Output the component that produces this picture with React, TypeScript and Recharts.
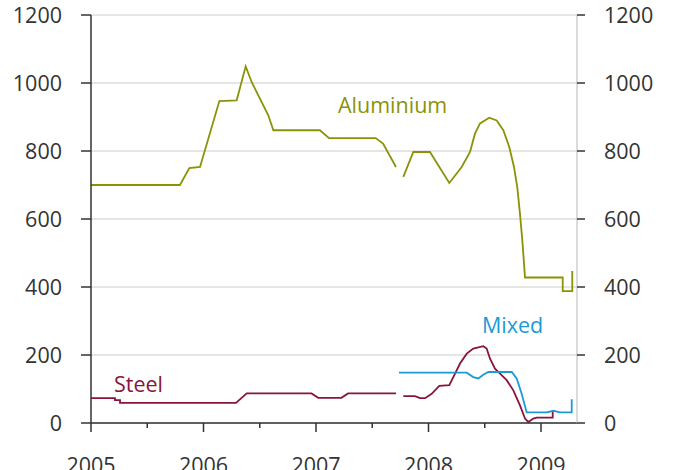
import { CartesianGrid, Line, LineChart, XAxis, YAxis } from "recharts";

type Pt = [number, number | null];

// prices, time in decimal years
const aluminium: Pt[] = [
  [2005.0, 700], [2005.791, 700], [2005.874, 750], [2005.969, 753],
  [2006.141, 947], [2006.295, 949], [2006.375, 1049], [2006.428, 1003],
  [2006.576, 905], [2006.621, 861], [2007.035, 861], [2007.116, 838],
  [2007.531, 838], [2007.596, 822], [2007.711, 753],
  [2007.745, null],
  [2007.776, 724], [2007.865, 797], [2008.013, 797], [2008.185, 706],
  [2008.295, 753], [2008.369, 797], [2008.413, 851], [2008.458, 881],
  [2008.54, 898], [2008.606, 890], [2008.665, 861], [2008.718, 812],
  [2008.76, 753], [2008.789, 694], [2008.813, 616], [2008.834, 537],
  [2008.858, 428], [2009.193, 428], [2009.193, 388], [2009.278, 388],
  [2009.278, 447],
];

const steel: Pt[] = [
  [2005.0, 73], [2005.213, 73], [2005.213, 67], [2005.258, 67],
  [2005.258, 59], [2006.289, 59], [2006.384, 87], [2006.96, 87],
  [2007.02, 74], [2007.226, 74], [2007.285, 87], [2007.711, 87],
  [2007.745, null],
  [2007.776, 79], [2007.88, 79], [2007.924, 73], [2007.97, 73],
  [2008.028, 86], [2008.096, 109], [2008.185, 111], [2008.236, 145],
  [2008.28, 175], [2008.34, 204], [2008.398, 219], [2008.487, 226],
  [2008.517, 219], [2008.547, 189], [2008.591, 160], [2008.636, 145],
  [2008.695, 126], [2008.754, 96], [2008.813, 52], [2008.858, 13],
  [2008.887, 3], [2008.932, 13], [2008.961, 16], [2009.104, 16],
  [2009.104, 32],
];

const mixed: Pt[] = [
  [2007.738, 148], [2008.34, 148], [2008.398, 135], [2008.443, 131],
  [2008.487, 142], [2008.532, 150], [2008.74, 150], [2008.784, 131],
  [2008.828, 86], [2008.873, 31], [2009.051, 31], [2009.11, 36],
  [2009.169, 31], [2009.273, 31], [2009.273, 70],
];

const yTicks = [0, 200, 400, 600, 800, 1000, 1200];
const xTicks = [2005, 2005.5, 2006, 2006.5, 2007, 2007.5, 2008, 2008.5, 2009];

const OLIVE = "#8a9306";
const CRIMSON = "#8a1538";
const BLUE = "#1b9ad6";
const TEXT = "#333333";
const FONT = "'Open Sans', 'Noto Sans', sans-serif";
const FS = 21.5;

const rows = (pts: Pt[]) => pts.map(([t, v]) => ({ t, v }));

function XTick(props: any) {
  const { x, y, payload } = props;
  const major = Number.isInteger(payload.value);
  return (
    <g>
      <line x1={x} y1={y} x2={x} y2={y + (major ? 9 : 5)} stroke={TEXT} strokeWidth={1.5} />
      {major && (
        <text x={x} y={y + 50} textAnchor="middle" fill={TEXT} fontSize={FS} fontFamily={FONT}>
          {payload.value}
        </text>
      )}
    </g>
  );
}

export default function App() {
  return (
    <div style={{ position: "absolute", left: 0, top: 0, width: 673, height: 470, background: "#fff" }}>
      <LineChart width={673} height={470} margin={{ top: 15, right: 0, bottom: 0, left: 0 }}>
        <CartesianGrid vertical={false} stroke="#cccccc" strokeWidth={1.2} yAxisId="left" />
        <XAxis
          dataKey="t"
          type="number"
          domain={[2005, 2009.32]}
          ticks={xTicks}
          interval={0}
          allowDuplicatedCategory={false}
          height={47}
          tickSize={0}
          tickMargin={0}
          tickLine={false}
          tick={<XTick />}
          axisLine={{ stroke: TEXT, strokeWidth: 1.5 }}
        />
        <YAxis
          yAxisId="left"
          domain={[0, 1200]}
          ticks={yTicks}
          width={91}
          tickSize={10}
          tickMargin={19}
          axisLine={{ stroke: TEXT, strokeWidth: 1.5 }}
          tickLine={{ stroke: TEXT, strokeWidth: 1.5 }}
          tick={{ fill: TEXT, fontSize: FS, fontFamily: FONT }}
        />
        <YAxis
          yAxisId="right"
          orientation="right"
          domain={[0, 1200]}
          ticks={yTicks}
          width={96}
          tickSize={8}
          tickMargin={19}
          axisLine={{ stroke: "#c4c4c4", strokeWidth: 1.2 }}
          tickLine={{ stroke: TEXT, strokeWidth: 1.5 }}
          tick={{ fill: TEXT, fontSize: FS, fontFamily: FONT }}
        />
        <Line yAxisId="right" data={rows(mixed)} dataKey="v" stroke="none" strokeWidth={0} dot={false} activeDot={false} isAnimationActive={false} />
        <Line yAxisId="left" data={rows(aluminium)} dataKey="v" type="linear" stroke={OLIVE} strokeWidth={1.8} dot={false} isAnimationActive={false} connectNulls={false} />
        <Line yAxisId="left" data={rows(steel)} dataKey="v" type="linear" stroke={CRIMSON} strokeWidth={1.8} dot={false} isAnimationActive={false} connectNulls={false} />
        <Line yAxisId="left" data={rows(mixed)} dataKey="v" type="linear" stroke={BLUE} strokeWidth={1.8} dot={false} isAnimationActive={false} connectNulls={false} />
        <text x={338} y={113} fill={OLIVE} fontSize={FS} fontFamily={FONT}>Aluminium</text>
        <text x={114} y={392} fill={CRIMSON} fontSize={FS} fontFamily={FONT}>Steel</text>
        <text x={482} y={333} fill={BLUE} fontSize={FS} fontFamily={FONT}>Mixed</text>
      </LineChart>
    </div>
  );
}
